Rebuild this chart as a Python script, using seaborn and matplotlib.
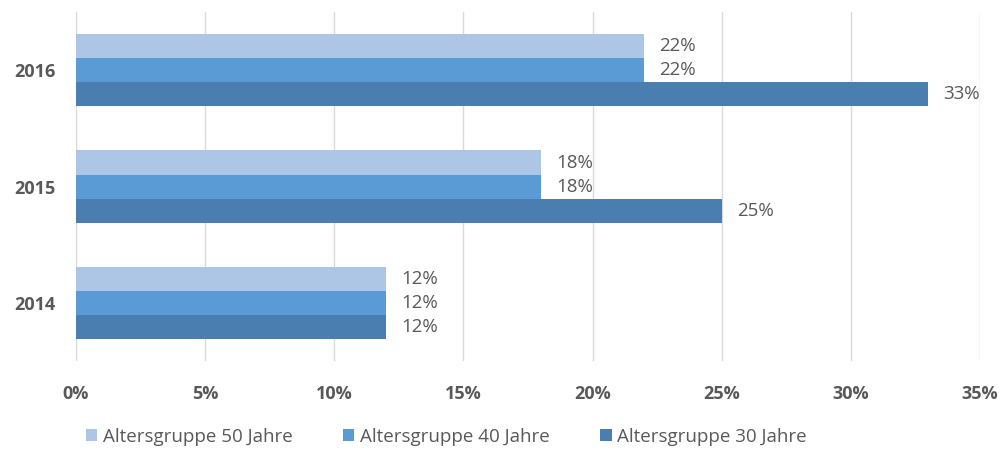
import pandas as pd
import matplotlib
matplotlib.use('Agg')
import matplotlib.pyplot as plt
import seaborn as sns
from matplotlib.ticker import FuncFormatter

# Data
years = ['2016', '2015', '2014']
groups = ['Altersgruppe 50 Jahre', 'Altersgruppe 40 Jahre', 'Altersgruppe 30 Jahre']
share_50 = [22, 18, 12]
share_40 = [22, 18, 12]
share_30 = [33, 25, 12]
x_ticks = [0, 5, 10, 15, 20, 25, 30, 35]

colors = ['#AEC6E6', '#5B9BD5', '#4A7EB0']
TEXT = '#595959'


def build_frame():
    rows = []
    for grp, vals in zip(groups, [share_50, share_40, share_30]):
        for yr, v in zip(years, vals):
            rows.append({'Jahr': yr, 'Gruppe': grp, 'Anteil': v})
    return pd.DataFrame(rows)


def main():
    df = build_frame()

    sns.set_theme(style='white')
    plt.rcParams['font.family'] = ['Open Sans', 'DejaVu Sans']

    fig = plt.figure(figsize=(10.03, 4.5), dpi=100)
    ax = fig.add_axes([0.0758, 0.198, 0.9012, 0.775])

    sns.barplot(data=df, y='Jahr', x='Anteil', hue='Gruppe', order=years,
                hue_order=groups, palette=colors, orient='h', width=0.62,
                gap=0, saturation=1, linewidth=0, ax=ax, legend=True)

    for cont in ax.containers:
        ax.bar_label(cont, labels=[f'{v:.0f}%' for v in cont.datavalues],
                     padding=11, fontsize=13.5, color=TEXT)

    ax.set_xlim(0, 35)
    ax.set_ylim(2.5, -0.5)
    ax.set_xticks(x_ticks)
    ax.xaxis.set_major_formatter(FuncFormatter(lambda v, _: f'{v:.0f}%'))
    ax.grid(axis='x', color='#D9D9D9', linewidth=1)
    ax.set_axisbelow(True)
    for s in ax.spines.values():
        s.set_visible(False)
    ax.tick_params(axis='both', length=0, labelsize=13, colors=TEXT)
    ax.tick_params(axis='x', pad=17)
    ax.tick_params(axis='y', pad=15)
    for lbl in ax.get_xticklabels() + ax.get_yticklabels():
        lbl.set_fontweight('bold')
    ax.set_xlabel('')
    ax.set_ylabel('')

    handles, labels = ax.get_legend_handles_labels()
    ax.get_legend().remove()
    fig.legend(handles, labels, loc='center', bbox_to_anchor=(0.445, 0.03),
               ncol=3, frameon=False, fontsize=13.5, handlelength=0.6,
               handleheight=0.6, handletextpad=0.3, columnspacing=2.7,
               labelcolor=TEXT)

    fig.savefig('out.png', dpi=100)
    plt.close(fig)


if __name__ == '__main__':
    main()
